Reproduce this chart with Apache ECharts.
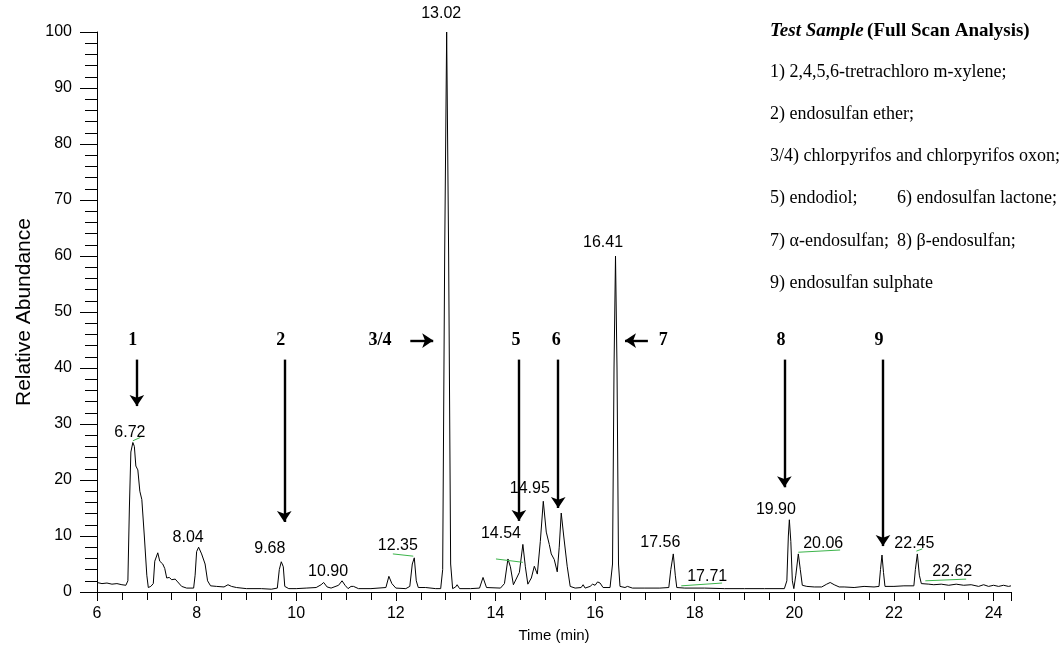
<!DOCTYPE html>
<html>
<head>
<meta charset="utf-8">
<script src="https://cdn.jsdelivr.net/npm/echarts@6/dist/echarts.min.js"></script>
<style>
  html, body { margin: 0; padding: 0; background: #fff; }
  #chart { width: 1063px; height: 648px; }
</style>
</head>
<body>
<div id="chart"></div>
<script>
// chromatogram trace: [time (min), relative abundance]
var trace = [
  [6.0,1.7],[6.1,1.5],[6.2,1.6],[6.3,1.4],[6.4,1.5],[6.5,1.3],[6.58,1.2],[6.62,2],[6.65,15],[6.68,25],
  [6.72,26.7],[6.75,26],[6.78,22.5],[6.82,21.8],[6.86,18],[6.9,16.5],[6.95,10],[7.0,3],[7.03,0.8],[7.08,1.0],
  [7.13,1.5],[7.16,5.5],[7.22,7.0],[7.26,5.5],[7.32,5.0],[7.36,4.2],[7.4,2.5],[7.45,2.6],[7.5,2.2],[7.57,2.3],
  [7.62,1.8],[7.7,1.0],[7.8,0.7],[7.94,0.7],[7.97,3],[8.0,7.2],[8.04,8.0],[8.1,6.8],[8.17,5.0],[8.22,2.0],
  [8.28,1.1],[8.4,1.0],[8.55,0.9],[8.63,1.3],[8.7,1.0],[8.8,0.8],[9.0,0.6],[9.3,0.6],[9.5,0.5],[9.62,0.7],
  [9.66,4.0],[9.70,5.4],[9.74,4.5],[9.77,1.0],[9.85,0.6],[10.0,0.6],[10.2,0.7],[10.4,0.8],[10.5,1.3],[10.55,1.7],
  [10.62,0.9],[10.7,0.7],[10.85,1.2],[10.92,2.0],[10.98,1.2],[11.04,0.6],[11.1,1.0],[11.15,1.0],[11.25,0.6],[11.5,0.6],
  [11.8,0.8],[11.86,2.8],[11.92,1.5],[12.0,0.7],[12.2,0.6],[12.28,1.0],[12.33,5.0],[12.37,6.1],[12.41,2.0],[12.45,0.8],
  [12.6,0.8],[12.8,0.6],[12.9,0.6],[12.94,4],[12.98,60],[13.02,100],[13.06,60],[13.1,5],[13.14,0.6],[13.2,0.9],
  [13.23,1.3],[13.28,0.6],[13.5,0.6],[13.68,0.7],[13.75,2.6],[13.82,0.8],[14.1,0.7],[14.18,1.5],[14.25,5.9],[14.3,4.5],
  [14.36,1.3],[14.4,1.1],[14.48,3.5],[14.55,8.5],[14.6,4.5],[14.65,1.4],[14.72,2.5],[14.78,4.6],[14.84,3.2],[14.9,9],
  [14.96,16.2],[15.02,10.7],[15.08,8.5],[15.12,6.8],[15.18,5.8],[15.24,3.6],[15.28,8],[15.32,14.1],[15.37,10],[15.44,4.6],
  [15.5,1.0],[15.6,0.7],[15.72,0.8],[15.76,1.3],[15.8,0.7],[15.9,1.0],[15.95,1.4],[16.0,1.2],[16.05,1.8],[16.1,1.6],
  [16.16,0.8],[16.3,0.8],[16.35,5],[16.38,40],[16.41,60],[16.44,40],[16.47,5],[16.5,1.0],[16.6,0.8],[16.65,1.0],
  [16.75,0.7],[17.0,0.7],[17.3,0.7],[17.48,0.8],[17.52,4],[17.57,6.8],[17.61,3],[17.64,0.8],[17.8,0.7],[18.2,0.7],
  [18.6,0.6],[19.0,0.6],[19.4,0.6],[19.8,0.6],[19.85,2],[19.88,10],[19.9,12.9],[19.93,9],[19.96,2],[19.99,0.6],
  [20.03,3],[20.08,6.8],[20.12,4],[20.16,1.2],[20.25,1.0],[20.4,0.9],[20.55,0.9],[20.65,1.4],[20.72,1.7],[20.8,1.3],
  [20.9,0.9],[21.0,0.9],[21.2,0.8],[21.4,1.0],[21.6,0.9],[21.7,1.0],[21.73,4],[21.76,6.6],[21.79,3.5],[21.82,1.0],
  [22.0,1.0],[22.2,1.1],[22.4,1.1],[22.43,4],[22.47,6.8],[22.51,3],[22.55,1.5],[22.7,1.4],[22.8,1.3],[22.95,1.4],
  [23.1,1.2],[23.25,1.4],[23.4,1.2],[23.55,1.3],[23.7,1.0],[23.8,1.3],[23.9,1.0],[24.0,1.2],[24.1,1.0],[24.2,1.2],
  [24.3,1.0],[24.35,1.1]
];

// retention time labels and where they sit (13.02 sits just above the top of the axis)
var peakNames = ['6.72','8.04','9.68','10.90','12.35','13.02','14.54','14.95','16.41','17.56','17.71','19.90','20.06','22.45','22.62'];
var peakLabelAt = [[6.66,28.5],[7.83,9.8],[9.47,7.7],[10.64,3.7],[12.04,8.2],[12.91,100],[14.11,10.5],[14.69,18.4],
  [16.16,62.4],[17.31,8.9],[18.25,2.8],[19.63,14.8],[20.58,8.7],[22.41,8.7],[23.17,3.6]];

// green integration marks under some labels
var greenMarks = [[[6.72,27.0],[6.87,27.6]],[[11.94,6.8],[12.35,6.4]],[[14.01,5.9],[14.55,5.3]],[[17.73,1.1],[18.55,1.6]],
  [[20.08,7.1],[20.92,7.5]],[[22.45,7.3],[22.57,7.7]],[[22.63,2.0],[23.45,2.3]]];

// compound numbers and their arrows
var compoundNames = ['1','2','3/4','5','6','7','8','9'];
var compoundAt = [[6.72,44.9],[9.69,44.9],[11.68,44.9],[14.41,44.9],[15.22,44.9],[17.37,44.9],[19.73,44.9],[21.70,44.9]];
var arrows = [
  [[6.80,41.5],[6.80,33.2]],[[9.76,41.5],[9.76,12.5]],[[12.29,44.9],[12.75,44.9]],[[14.47,41.5],[14.47,12.7]],
  [[15.26,41.5],[15.26,15.0]],[[17.06,44.9],[16.60,44.9]],[[19.80,41.5],[19.80,18.7]],[[21.78,41.5],[21.78,8.2]]
];

var legendLines = [
  '1) 2,4,5,6-tretrachloro m-xylene;',
  '2) endosulfan ether;',
  '3/4) chlorpyrifos and chlorpyrifos oxon;',
  '5) endodiol;',
  '7) \u03b1-endosulfan;',
  '9) endosulfan sulphate'
];
var legendLines2 = ['', '', '', '6) endosulfan lactone;', '8) \u03b2-endosulfan;', ''];

var chart = echarts.init(document.getElementById('chart'));
var sans = 'Liberation Sans, Arial, Helvetica, sans-serif';
var serif = 'Liberation Serif, Times New Roman, serif';

var legendLeft = 770;
var legendGraphics = [{
  type: 'text', left: legendLeft, top: 22,
  style: {
    text: '{a|Test Sample} {b|(Full Scan Analysis)}',
    rich: {
      a: { fontFamily: serif, fontSize: 19, fontWeight: 'bold', fontStyle: 'italic', fill: '#000' },
      b: { fontFamily: serif, fontSize: 19, fontWeight: 'bold', fill: '#000' }
    }
  }
}];
legendLines.forEach(function (t, i) {
  var top = 63 + i * 42.2;
  legendGraphics.push({ type: 'text', left: legendLeft, top: top, style: { text: t, fontFamily: serif, fontSize: 18, fill: '#000' } });
  if (legendLines2[i]) {
    legendGraphics.push({ type: 'text', left: 897, top: top, style: { text: legendLines2[i], fontFamily: serif, fontSize: 18, fill: '#000' } });
  }
});

var option = {
  animation: false,
  backgroundColor: '#fff',
  grid: { left: 97, right: 52, top: 32, bottom: 55 },
  xAxis: {
    type: 'value', min: 6, max: 24.35, interval: 2,
    name: 'Time (min)', nameLocation: 'middle', nameGap: 36,
    nameTextStyle: { fontFamily: sans, fontSize: 15, color: '#000' },
    axisLine: { lineStyle: { color: '#000', width: 1 } },
    axisTick: { show: true, length: 9, lineStyle: { color: '#000' } },
    minorTick: { show: true, splitNumber: 4, length: 8, lineStyle: { color: '#000' } },
    axisLabel: { fontFamily: sans, fontSize: 16, color: '#000', margin: 14, showMaxLabel: false },
    splitLine: { show: false }
  },
  yAxis: {
    type: 'value', min: 0, max: 100, interval: 10,
    name: 'Relative Abundance', nameLocation: 'middle', nameGap: 58, nameRotate: 90,
    nameTextStyle: { fontFamily: sans, fontSize: 21, color: '#000' },
    axisLine: { show: true, lineStyle: { color: '#000', width: 1 } },
    axisTick: { show: true, length: 17, lineStyle: { color: '#000' } },
    minorTick: { show: true, splitNumber: 5, length: 12, lineStyle: { color: '#000' } },
    axisLabel: { fontFamily: sans, fontSize: 16, color: '#000', margin: 25 },
    splitLine: { show: false }
  },
  graphic: legendGraphics,
  series: [
    {
      type: 'line', data: trace, symbol: 'none', clip: false,
      lineStyle: { color: '#000', width: 1 },
      markPoint: {
        symbol: 'circle', symbolSize: 0, silent: true,
        label: { show: true, position: 'inside', formatter: '{b}', fontFamily: sans, fontSize: 16, color: '#000' },
        data: peakNames.map(function (n, i) {
          var item = { name: n, coord: peakLabelAt[i] };
          if (n === '13.02') item.label = { offset: [0, -18] };
          return item;
        })
      }
    },
    {
      type: 'line', data: [], symbol: 'none',
      markLine: {
        silent: true, symbol: ['none', 'arrow'], symbolSize: 11, animation: false,
        lineStyle: { color: '#000', width: 2.4, type: 'solid' },
        label: { show: false },
        data: arrows.map(function (a) { return [{ coord: a[0] }, { coord: a[1] }]; })
      },
      markPoint: {
        symbol: 'circle', symbolSize: 0, silent: true,
        label: { show: true, position: 'inside', formatter: '{b}', fontFamily: serif, fontSize: 18, fontWeight: 'bold', color: '#000' },
        data: compoundNames.map(function (n, i) { return { name: n, coord: compoundAt[i] }; })
      }
    },
    {
      type: 'line', data: [], symbol: 'none',
      markLine: {
        silent: true, symbol: 'none', animation: false,
        lineStyle: { color: '#3cb44b', width: 1, type: 'solid' },
        label: { show: false },
        data: greenMarks.map(function (g) { return [{ coord: g[0] }, { coord: g[1] }]; })
      }
    }
  ]
};
chart.setOption(option);
</script>
</body>
</html>
